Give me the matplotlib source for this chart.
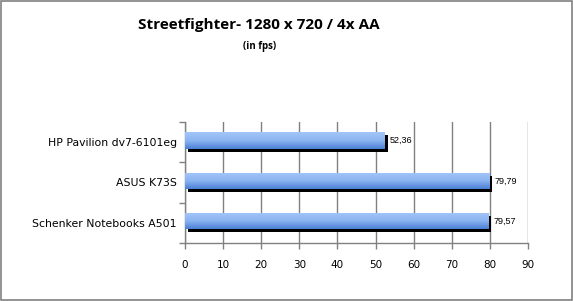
import matplotlib
matplotlib.use("Agg")
import matplotlib.pyplot as plt
import matplotlib.transforms as mtrans
from matplotlib.patches import Rectangle
import numpy as np

# --- DATA ---
categories = ["HP Pavilion dv7-6101eg", "ASUS K73S", "Schenker Notebooks A501"]
values = [52.36, 79.79, 79.57]
value_labels = ["52,36", "79,79", "79,57"]
xticks = [0, 10, 20, 30, 40, 50, 60, 70, 80, 90]

TITLE = "Streetfighter- 1280 x 720 / 4x AA"
SUBTITLE = "(in fps)"

fig = plt.figure(figsize=(5.73, 3.01), dpi=100)
ax = fig.add_axes([185 / 573, 1 - 243 / 301, 343 / 573, 121 / 301])

# rahmen um die ganze grafik
fig.patches.append(Rectangle((0.001, 0.002), 0.997, 0.995, transform=fig.transFigure,
                             fill=False, edgecolor="#808080", linewidth=1.2))

bar_h = 0.41
ypos = np.arange(len(categories)) - 0.04

# verlauf hell oben -> dunkler unten
grad = np.linspace(0, 1, 64).reshape(-1, 1)
cmap = matplotlib.colors.LinearSegmentedColormap.from_list("blu", ["#a2c5fa", "#8db4f0", "#4a80d8"])

shadow_tr = mtrans.offset_copy(ax.transData, fig=fig, x=3, y=-3, units="dots")
for y, v, lab in zip(ypos, values, value_labels):
    ax.add_patch(Rectangle((0, y - bar_h / 2), v, bar_h, transform=shadow_tr,
                           facecolor="black", edgecolor="none", zorder=3))
    rect = Rectangle((0, y - bar_h / 2), v, bar_h, facecolor="none", edgecolor="none", zorder=4)
    ax.add_patch(rect)
    im = ax.imshow(grad, cmap=cmap, aspect="auto", extent=(0, v, y + bar_h / 2, y - bar_h / 2),
                   zorder=4, interpolation="bilinear")
    im.set_clip_path(rect)
    ax.annotate(lab, (v, y), xytext=(4, 0), textcoords="offset points", va="center", ha="left",
                fontsize=6.5, family="Liberation Sans", zorder=2)

ax.set_xlim(0, 90)
ax.set_ylim(2.5, -0.5)

ax.set_xticks(xticks)
ax.set_xticklabels([str(t) for t in xticks], fontsize=7.5, family="DejaVu Sans")
ax.set_yticks([-0.5, 0.5, 1.5, 2.5])
ax.set_yticklabels([])
ax.set_yticks(ypos + 0.04, minor=True)
ax.set_yticklabels(categories, minor=True, fontsize=7.8, family="DejaVu Sans")
ax.tick_params(axis="y", which="minor", length=0, pad=6)
ax.tick_params(axis="y", which="major", length=4, color="#808080", width=1)
ax.tick_params(axis="x", length=4, color="#808080", width=1, pad=8)

ax.grid(axis="x", color="#808080", linewidth=1, zorder=0)
ax.set_axisbelow(True)
for s in ["top", "right"]:
    ax.spines[s].set_visible(False)
for s in ["left", "bottom"]:
    ax.spines[s].set_color("#808080")
    ax.spines[s].set_linewidth(1)

fig.text(259 / 573, 1 - 25 / 301, TITLE, ha="center", va="center", fontsize=11,
         fontweight="bold", family="Open Sans")
fig.text(260 / 573, 1 - 46 / 301, SUBTITLE, ha="center", va="center", fontsize=7,
         fontweight="bold", family="Open Sans")

fig.savefig("out.png", dpi=100)
